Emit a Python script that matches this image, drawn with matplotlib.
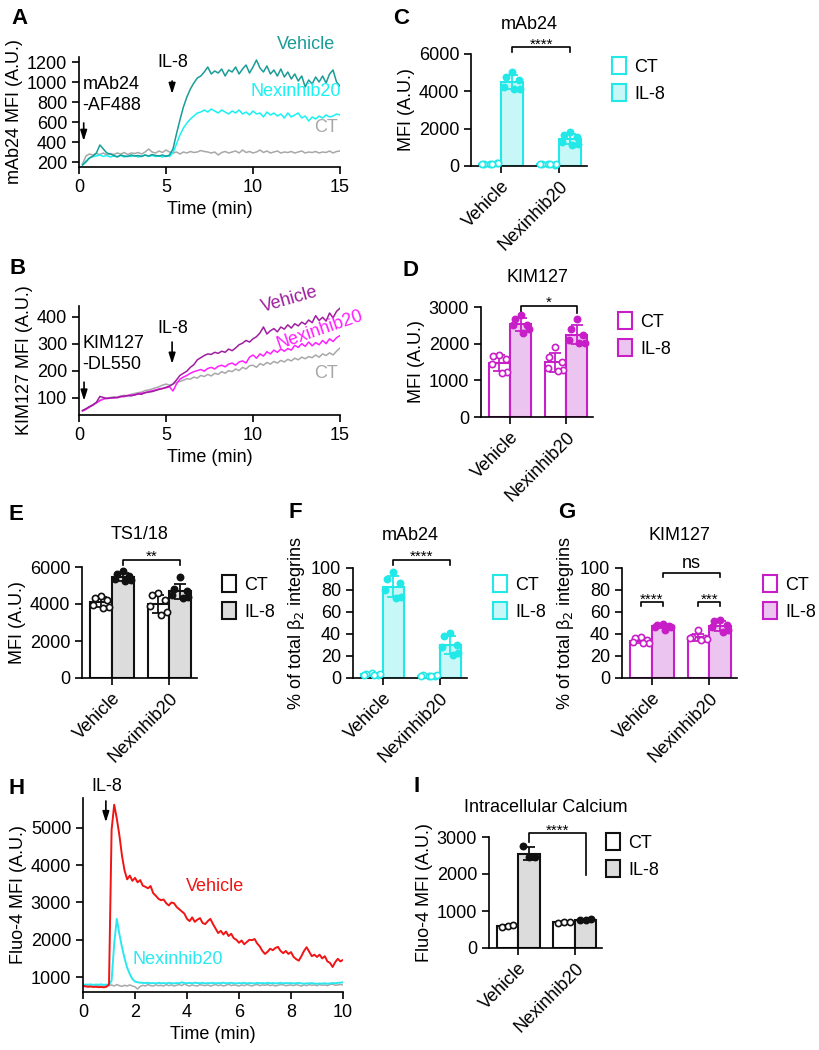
import matplotlib
matplotlib.use("Agg")
import matplotlib.pyplot as plt
import numpy as np
from matplotlib.patches import Patch
from matplotlib.transforms import offset_copy

plt.rcParams['font.family'] = ['Liberation Sans', 'DejaVu Sans']
plt.rcParams['font.size'] = 13
plt.rcParams['axes.linewidth'] = 1.2
plt.rcParams['xtick.major.width'] = 1.2
plt.rcParams['ytick.major.width'] = 1.2
plt.rcParams['xtick.major.size'] = 5
plt.rcParams['ytick.major.size'] = 5
plt.rcParams['xtick.labelsize'] = 13
plt.rcParams['ytick.labelsize'] = 13

W, H = 819, 1050

# ---------------- data ----------------
groups = ["Vehicle", "Nexinhib20"]

# panel A: mAb24 kinetics (every 0.2 min from 0.2 to 15)
t_ab = np.round(np.arange(0.2, 15.01, 0.2), 1)
a_vehicle = [170, 200, 240, 260, 290, 370, 330, 290, 280, 265,
             250, 270, 260, 255, 270, 260, 265, 255, 270, 260,
             275, 265, 260, 270, 255, 270, 330, 480, 620, 750,
             850, 930, 990, 1040, 1060, 1100, 1150, 1080, 1110, 1090,
             1130, 1060, 1120, 1100, 1150, 1080, 1130, 1170, 1090, 1150,
             1220, 1140, 1100, 1160, 1080, 1120, 1060, 1130, 1050, 1100,
             1030, 1080, 1010, 1060, 950, 1020, 980, 1050, 1000, 1060,
             990, 1080, 1120, 1000, 960]
a_nexinhib = [170, 210, 240, 255, 260, 270, 255, 265, 250, 260,
              255, 265, 250, 260, 255, 265, 250, 260, 270, 255,
              265, 255, 260, 250, 265, 255, 290, 380, 470, 540,
              590, 630, 660, 690, 700, 720, 700, 730, 710, 690,
              720, 700, 680, 710, 690, 720, 680, 700, 670, 710,
              680, 690, 650, 700, 670, 690, 660, 680, 640, 690,
              650, 670, 690, 640, 660, 610, 650, 630, 660, 640,
              670, 650, 660, 680, 670]
a_ct = [180, 260, 280, 270, 285, 275, 290, 270, 285, 275,
        290, 280, 295, 275, 290, 285, 295, 280, 300, 330,
        300, 290, 310, 295, 320, 300, 290, 300, 280, 300,
        290, 305, 295, 300, 315, 305, 300, 290, 300, 270,
        295, 305, 290, 300, 310, 290, 320, 295, 305, 290,
        300, 320, 295, 310, 290, 300, 310, 290, 300, 295,
        305, 290, 300, 310, 290, 300, 295, 305, 290, 300,
        295, 310, 290, 305, 310]

# panel B: KIM127 kinetics
b_vehicle = [52, 58, 66, 72, 82, 104, 100, 96, 98, 100,
             99, 103, 105, 107, 106, 110, 113, 112, 118, 120,
             122, 126, 130, 133, 138, 142, 150, 165, 182, 190,
             198, 212, 222, 240, 248, 256, 262, 260, 268, 264,
             272, 268, 280, 274, 284, 296, 302, 312, 306, 318,
             326, 340, 362, 336, 348, 356, 344, 362, 354, 370,
             358, 374, 366, 380, 372, 388, 378, 404, 386, 398,
             384, 414, 396, 420, 432]
b_nexinhib = [50, 56, 64, 72, 80, 88, 94, 97, 99, 98,
              101, 104, 103, 108, 110, 109, 114, 116, 118, 122,
              125, 128, 132, 134, 136, 140, 124, 150, 168, 176,
              182, 190, 196, 200, 204, 198, 208, 212, 206, 216,
              220, 214, 224, 228, 220, 232, 236, 228, 250, 258,
              246, 262, 254, 270, 262, 276, 268, 280, 272, 282,
              276, 294, 286, 300, 290, 306, 292, 304, 296, 312,
              300, 318, 308, 322, 330]
b_ct = [50, 58, 66, 74, 82, 90, 95, 98, 100, 102,
        101, 106, 108, 106, 112, 115, 118, 120, 126, 128,
        132, 136, 140, 146, 150, 146, 150, 156, 160, 164,
        170, 168, 176, 172, 182, 178, 186, 180, 190, 186,
        196, 190, 200, 196, 206, 200, 212, 206, 218, 220,
        212, 226, 220, 230, 224, 234, 228, 238, 232, 242,
        236, 246, 240, 250, 244, 252, 248, 258, 250, 262,
        256, 266, 258, 272, 284]

# panel H: calcium kinetics (every 0.1 min from 0 to 10)
t_h = np.round(np.arange(0, 10.01, 0.1), 1)
h_vehicle = [760, 750, 740, 745, 735, 740, 730, 735, 725, 740,
             800, 4950, 5620, 5250, 4800, 4250, 3850, 3620, 3720, 3580,
             3660, 3540, 3600, 3450, 3420, 3380, 3440, 3250, 3180, 3100,
             3060, 3080, 2980, 2920, 3000, 2980, 2880, 2820, 2760, 2700,
             2560, 2500, 2600, 2480, 2540, 2580, 2450, 2420, 2500, 2560,
             2420, 2300, 2180, 2240, 2140, 2220, 2100, 2160, 2040, 2000,
             1920, 1980, 1880, 1940, 2000, 1990, 2020, 1900, 1820, 1700,
             1620, 1680, 1760, 1720, 1780, 1810, 1700, 1640, 1700, 1620,
             1670, 1540, 1480, 1440, 1560, 1700, 1800, 1680, 1560, 1600,
             1540, 1600, 1500, 1560, 1420, 1380, 1270, 1400, 1490, 1420,
             1460]
h_nexinhib = [790, 800, 795, 805, 790, 800, 795, 805, 790, 800,
              800, 900, 1900, 2560, 2150, 1800, 1500, 1250, 1080, 950,
              880, 860, 850, 845, 840, 845, 835, 840, 830, 845,
              835, 840, 830, 845, 835, 830, 840, 835, 860, 840,
              835, 845, 830, 850, 840, 835, 845, 830, 840, 835,
              845, 830, 840, 835, 850, 830, 840, 845, 835, 830,
              840, 835, 845, 830, 840, 835, 830, 845, 835, 840,
              830, 845, 835, 840, 830, 835, 845, 830, 840, 835,
              840, 830, 835, 845, 830, 820, 835, 830, 840, 825,
              820, 830, 825, 835, 820, 830, 840, 835, 845, 850,
              860]
h_ct = [760, 770, 755, 765, 750, 760, 770, 755, 760, 765,
        770, 790, 760, 800, 770, 750, 780, 760, 790, 760,
        740, 680, 750, 780, 760, 800, 770, 760, 790, 770,
        780, 760, 800, 770, 790, 760, 780, 800, 770, 820,
        780, 760, 790, 770, 760, 800, 780, 770, 790, 760,
        780, 800, 770, 790, 760, 780, 810, 770, 790, 780,
        760, 790, 770, 800, 780, 760, 790, 800, 770, 790,
        780, 800, 770, 790, 760, 780, 800, 790, 770, 780,
        790, 770, 800, 780, 760, 790, 770, 800, 780, 790,
        770, 800, 780, 790, 770, 800, 810, 780, 790, 800,
        790]

# bar panels: [Vehicle, Nexinhib20] replicate values
c_ct = [[130, 110, 150, 100, 140, 120], [90, 110, 80, 100, 120, 95]]
c_il8 = [[5050, 4750, 4600, 4250, 4150, 4100], [1830, 1650, 1530, 1290, 1200, 1110]]
d_ct = [[1690, 1660, 1570, 1450, 1220, 1200], [1920, 1650, 1490, 1330, 1280, 1260]]
d_il8 = [[2770, 2680, 2520, 2500, 2400, 2300], [2680, 2390, 2230, 2100, 2020, 2010]]
e_ct = [[4450, 4350, 4200, 3950, 3850, 3800], [4580, 4490, 4200, 3870, 3590, 3400]]
e_il8 = [[5800, 5600, 5500, 5350, 5300, 5220], [5450, 4800, 4700, 4500, 4400, 4300]]
f_ct = [[4.5, 3.5, 3.0, 2.5, 4.0, 3.0], [2.0, 2.5, 1.8, 2.2, 3.0, 2.0]]
f_il8 = [[96, 90, 86, 80, 74, 73], [41, 38, 30, 28, 23, 21]]
g_ct = [[37.5, 36, 34.5, 33, 32, 31.5], [43.5, 37.5, 36, 36, 35.2, 35]]
g_il8 = [[49.5, 48, 47.3, 46.7, 46, 44], [53, 52, 48, 46, 44, 42]]
i_ct = [[570, 600, 620], [680, 700, 690]]
i_il8 = [[2750, 2450, 2460], [750, 770, 780]]

# colours
CYAN, CYAN_FILL = '#22E8E8', '#C8F7F7'
MAG, MAG_FILL = '#C81EC8', '#EBC5F0'
BLK, GRY_FILL = '#111111', '#DCDCDC'
TEAL = '#1A9C98'
VEH_PURPLE = '#9E1E9E'
NEX_MAG = '#FF1EFF'
GRAY = '#A8A8A8'
RED = '#F01414'

JIT6 = [0.0, -0.11, 0.11, -0.14, 0.14, 0.04]
JIT3 = [-0.1, 0.0, 0.1]

fig = plt.figure(figsize=(W / 100, H / 100), dpi=100)


def add_ax(l, r, t, b):
    ax = fig.add_axes([l / W, 1 - b / H, (r - l) / W, (b - t) / H])
    ax.spines['top'].set_visible(False)
    ax.spines['right'].set_visible(False)
    return ax


def letter(s, x, y):
    fig.text(x / W, 1 - y / H, s, fontsize=16, fontweight='bold', ha='center', va='center')


def arrow(ax, x, y0, y1):
    ax.annotate('', xy=(x, y1), xytext=(x, y0),
                arrowprops=dict(arrowstyle='-|>,head_length=0.7,head_width=0.22', color='black',
                                lw=1.2, mutation_scale=9, shrinkA=0, shrinkB=0),
                annotation_clip=False)


def bracket(ax, x0, x1, y, y0, y1, label, fs=11, dy=-1.5):
    ax.plot([x0, x0, x1, x1], [y0, y, y, y1], color='black', lw=1.2, clip_on=False)
    # baseline just around the bracket line; asterisks sit high in the glyph box
    tr = offset_copy(ax.transData, fig=fig, y=dy, units='dots')
    ax.text((x0 + x1) / 2, y, label, ha='center', va='baseline', fontsize=fs,
            transform=tr, clip_on=False)


def bar_panel(ax, ct, il8, edge, fill, ymax, ystep, title, ylabel, leg_xy, pad=18):
    w = 0.38
    for i in range(2):
        for vals, off, fc, filled in [(ct[i], -w / 2, 'white', False), (il8[i], w / 2, fill, True)]:
            vals = np.array(vals)
            m = vals.mean()
            sd = vals.std(ddof=1)
            xc = i + off
            ax.bar(xc, m, width=w, color=fc, edgecolor=edge, linewidth=1.5, zorder=1)
            ax.errorbar(xc, m, yerr=sd, fmt='none', ecolor=edge, elinewidth=1.3,
                        capsize=4, capthick=1.3, zorder=3)
            jit = JIT6 if len(vals) == 6 else JIT3
            ax.scatter(xc + np.array(jit), vals, s=20, facecolor=edge if filled else 'white',
                       edgecolor=edge, linewidth=1.2, zorder=4, clip_on=False)
    ax.set_xlim(-0.52, 1.48)
    ax.set_ylim(0, ymax)
    ax.set_yticks(np.arange(0, ymax + 1e-9, ystep))
    ax.set_xticks([0, 1])
    ax.set_xticklabels(groups, rotation=45, ha='right', rotation_mode='anchor')
    ax.set_title(title, fontsize=13, pad=pad)
    ax.set_ylabel(ylabel, labelpad=3)
    handles = [Patch(facecolor='white', edgecolor=edge, linewidth=1.5, label='CT'),
               Patch(facecolor=fill, edgecolor=edge, linewidth=1.5, label='IL-8')]
    ax.legend(handles=handles, loc='upper left', bbox_to_anchor=(leg_xy[0] / W, 1 - leg_xy[1] / H),
              bbox_transform=fig.transFigure, frameon=False, handlelength=0.75, handleheight=1.1,
              handletextpad=0.5, labelspacing=0.45, borderpad=0, borderaxespad=0, fontsize=13)


# ---------------- A ----------------
axA = add_ax(79, 340, 57, 167)
axA.plot(t_ab, a_ct, color=GRAY, lw=1.1)
axA.plot(t_ab, a_nexinhib, color='#19F2F2', lw=1.1)
axA.plot(t_ab, a_vehicle, color=TEAL, lw=1.1)
axA.set_xlim(0, 15)
axA.set_ylim(150, 1250)
axA.set_xticks([0, 5, 10, 15])
axA.set_yticks(np.arange(200, 1201, 200))
axA.set_xlabel('Time (min)')
axA.set_ylabel('mAb24 MFI (A.U.)', labelpad=3)
axA.text(13.05, 1377, 'Vehicle', color=TEAL, ha='center', va='center', clip_on=False)
axA.text(12.47, 907, 'Nexinhib20', color='#19F2F2', ha='center', va='center')
axA.text(14.2, 547, 'CT', color=GRAY, ha='center', va='center')
axA.text(5.4, 1200, 'IL-8', ha='center', va='center', clip_on=False)
arrow(axA, 5.35, 1010, 880)
axA.text(0.2, 870, 'mAb24\n-AF488', ha='left', va='center', linespacing=1.25)
arrow(axA, 0.27, 590, 410)

# ---------------- B ----------------
axB = add_ax(79, 340, 306, 415)
axB.plot(t_ab, b_ct, color=GRAY, lw=1.1)
axB.plot(t_ab, b_nexinhib, color=NEX_MAG, lw=1.1)
axB.plot(t_ab, b_vehicle, color=VEH_PURPLE, lw=1.1)
axB.set_xlim(0, 15)
axB.set_ylim(35, 440)
axB.set_xticks([0, 5, 10, 15])
axB.set_yticks([100, 200, 300, 400])
axB.set_xlabel('Time (min)')
axB.set_ylabel('KIM127 MFI (A.U.)', labelpad=3)
axB.text(12.13, 462, 'Vehicle', color=VEH_PURPLE, ha='center', va='center', rotation=16, clip_on=False)
axB.text(13.85, 350, 'Nexinhib20', color=NEX_MAG, ha='center', va='center', rotation=19, clip_on=False)
axB.text(14.2, 190, 'CT', color=GRAY, ha='center', va='center')
axB.text(5.4, 358, 'IL-8', ha='center', va='center')
arrow(axB, 5.35, 306, 225)
axB.text(0.2, 262, 'KIM127\n-DL550', ha='left', va='center', linespacing=1.25)
arrow(axB, 0.29, 157, 88)

# ---------------- C, D ----------------
axC = add_ax(471, 587, 54, 166)
bar_panel(axC, c_ct, c_il8, CYAN, CYAN_FILL, 6000, 2000, 'mAb24', 'MFI (A.U.)', (612, 57))
bracket(axC, 0.19, 1.19, 6360, 6100, 6100, '****')

axD = add_ax(481, 593, 307, 417)
bar_panel(axD, d_ct, d_il8, MAG, MAG_FILL, 3000, 1000, 'KIM127', 'MFI (A.U.)', (618, 312))
bracket(axD, 0.19, 1.19, 3036, 2846, 2846, '*')

# ---------------- E, F, G ----------------
axE = add_ax(82, 197, 567, 678)
bar_panel(axE, e_ct, e_il8, BLK, GRY_FILL, 6000, 2000, 'TS1/18', 'MFI (A.U.)', (222, 575), pad=20)
bracket(axE, 0.19, 1.19, 6395, 6123, 6123, '**')

b2 = '% of total β$_2$ integrins'
axF = add_ax(353, 467, 568, 678)
bar_panel(axF, f_ct, f_il8, CYAN, CYAN_FILL, 100, 20, 'mAb24', b2, (493, 575), pad=20)
bracket(axF, 0.19, 1.19, 107.6, 103, 103, '****')

axG = add_ax(622, 737, 568, 678)
bar_panel(axG, g_ct, g_il8, MAG, MAG_FILL, 100, 20, 'KIM127', b2, (763, 575), pad=20)
bracket(axG, -0.19, 0.19, 69, 65.5, 65.5, '****')
bracket(axG, 0.81, 1.19, 69, 65.5, 65.5, '***')
bracket(axG, 0.19, 1.19, 95.8, 92, 92, 'ns', fs=13, dy=5)

# ---------------- H ----------------
axH = add_ax(83, 343, 798, 992)
axH.plot(t_h, h_ct, color=GRAY, lw=1.1)
axH.plot(t_h, h_nexinhib, color='#2BE8F0', lw=1.4)
axH.plot(t_h, h_vehicle, color=RED, lw=1.4)
axH.set_xlim(0, 10)
axH.set_ylim(600, 5800)
axH.set_xticks(np.arange(0, 11, 2))
axH.set_yticks(np.arange(1000, 5001, 1000))
axH.set_xlabel('Time (min)')
axH.set_ylabel('Fluo-4 MFI (A.U.)', labelpad=3)
axH.text(0.92, 6100, 'IL-8', ha='center', va='center', clip_on=False)
arrow(axH, 0.88, 5720, 5150)
axH.text(5.08, 3430, 'Vehicle', color=RED, ha='center', va='center')
axH.text(3.65, 1460, 'Nexinhib20', color='#2BE8F0', ha='center', va='center')

# ---------------- I ----------------
axI = add_ax(489, 602, 837, 948)
bar_panel(axI, i_ct, i_il8, BLK, GRY_FILL, 3000, 1000, 'Intracellular Calcium', 'Fluo-4 MFI (A.U.)', (606, 833))
bracket(axI, 0.19, 1.19, 3110, 2870, 1960, '****')

for s, x, y in [('A', 20, 18), ('C', 401, 18), ('B', 18, 268), ('D', 410, 270),
                ('E', 16, 514), ('F', 295, 512), ('G', 567, 512), ('H', 17, 788), ('I', 417, 787)]:
    letter(s, x, y)

fig.savefig('out.png', dpi=100)
